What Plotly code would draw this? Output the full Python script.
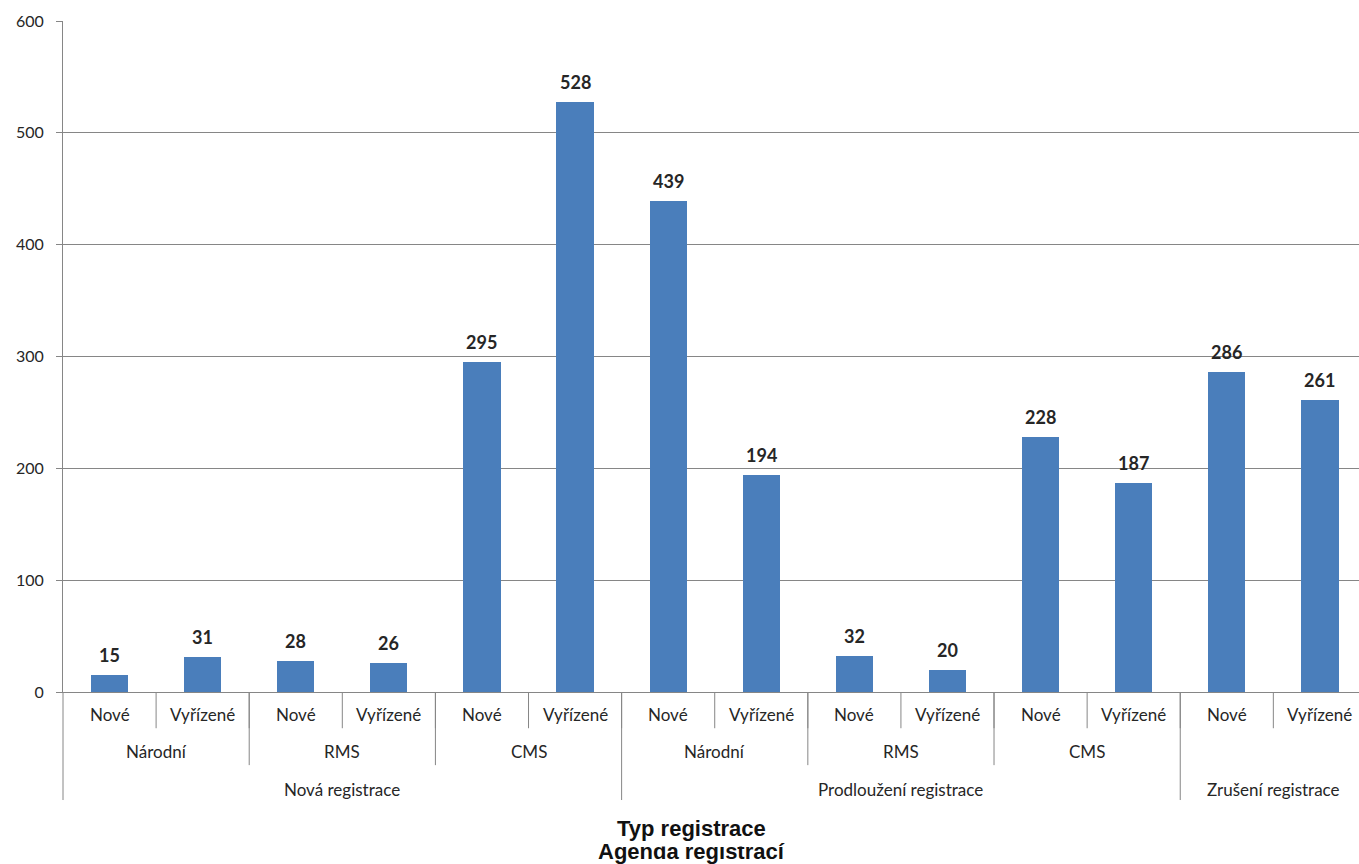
import plotly.graph_objects as go

# Hierarchical categories (innermost first)
status = ["Nové", "Vyřízené"] * 7
procedures = ["Národní", "RMS", "CMS", "Národní", "RMS", "CMS", ""]
reg_types = ["Nová registrace", "Prodloužení registrace", "Zrušení registrace"]
# number of procedure groups per registration type
types_span = [3, 3, 1]
values = [15, 31, 28, 26, 295, 528, 439, 194, 32, 20, 228, 187, 286, 261]

y_ticks = [0, 100, 200, 300, 400, 500, 600]

BAR = "#4a7ebb"
GRID = "#868686"
TXT = "#262626"
FONT = "Lato"

n = len(values)
xs = list(range(n))

fig = go.Figure()
fig.add_trace(go.Bar(x=xs, y=values, width=0.4, marker=dict(color=BAR, line=dict(width=0)),
                     hoverinfo="skip"))

annotations = []
# value labels above bars
for i, v in enumerate(values):
    annotations.append(dict(x=i, y=v, xref="x", yref="y", text=f"<b>{v}</b>", showarrow=False,
                            yanchor="middle", yshift=20,
                            font=dict(family=FONT, size=18, color=TXT)))

# axis band geometry (paper units below the plot)
Y1_TXT, Y1_END = -0.034, -0.054
Y2_TXT, Y2_END = -0.089, -0.109
Y3_TXT, Y3_END = -0.145, -0.161

shapes = []

def vline(xv, yend, xref="x"):
    shapes.append(dict(type="line", xref=xref, yref="paper", x0=xv, x1=xv, y0=0, y1=yend,
                       line=dict(color=GRID, width=1)))

# innermost level labels and separators
for i, s in enumerate(status):
    annotations.append(dict(x=i, y=Y1_TXT, xref="x", yref="paper", text=s, showarrow=False,
                            yanchor="middle", font=dict(family=FONT, size=17, color=TXT)))
    if i > 0:
        vline(i - 0.5, Y1_END)

# procedure level
pos = 0
bounds2 = []
for p in procedures:
    center = pos + 0.5
    if p:
        annotations.append(dict(x=center, y=Y2_TXT, xref="x", yref="paper", text=p, showarrow=False,
                                yanchor="middle", font=dict(family=FONT, size=17, color=TXT)))
    pos += 2
    bounds2.append(pos - 0.5)

# registration type level
start = 0
bounds3 = []
for t, span in zip(reg_types, types_span):
    end = start + span * 2
    annotations.append(dict(x=(start + end - 1) / 2, y=Y3_TXT, xref="x", yref="paper", text=t,
                            showarrow=False, yanchor="middle",
                            font=dict(family=FONT, size=17, color=TXT)))
    bounds3.append(end - 0.5)
    start = end

for b in bounds2[:-1]:
    if b in bounds3:
        vline(b, Y3_END)
    else:
        vline(b, Y2_END)

# left axis line extended through the category bands
vline(0, Y3_END, xref="paper")

# axis titles below the chart; the upper one is boxed in white and overlaps the lower
annotations.append(dict(x=0.485, y=-0.238, xref="paper", yref="paper", text="<b>Agenda registrací</b>",
                        showarrow=False, yanchor="middle",
                        font=dict(family="Liberation Sans", size=22, color="#111111")))
annotations.append(dict(x=0.485, y=-0.204, xref="paper", yref="paper", text="<b>Typ registrace</b>",
                        showarrow=False, yanchor="middle", bgcolor="white", borderpad=5,
                        font=dict(family="Liberation Sans", size=22, color="#111111")))

fig.update_layout(
    width=1359, height=864,
    margin=dict(l=63, r=0, t=21, b=172),
    paper_bgcolor="white", plot_bgcolor="white",
    showlegend=False,
    bargap=0,
    annotations=annotations,
    shapes=shapes,
    xaxis=dict(range=[-0.5, n - 0.58], showticklabels=False, ticks="", showgrid=False,
               showline=True, linecolor=GRID, linewidth=1, zeroline=False, fixedrange=True),
    yaxis=dict(range=[0, 600], tickvals=y_ticks, showgrid=True, gridcolor=GRID, gridwidth=1,
               showline=True, linecolor=GRID, linewidth=1, ticks="outside", ticklen=6,
               tickcolor=GRID, zeroline=False, ticklabelstandoff=9,
               tickfont=dict(family=FONT, size=16, color=TXT), fixedrange=True),
)

fig.write_html("out.html")
